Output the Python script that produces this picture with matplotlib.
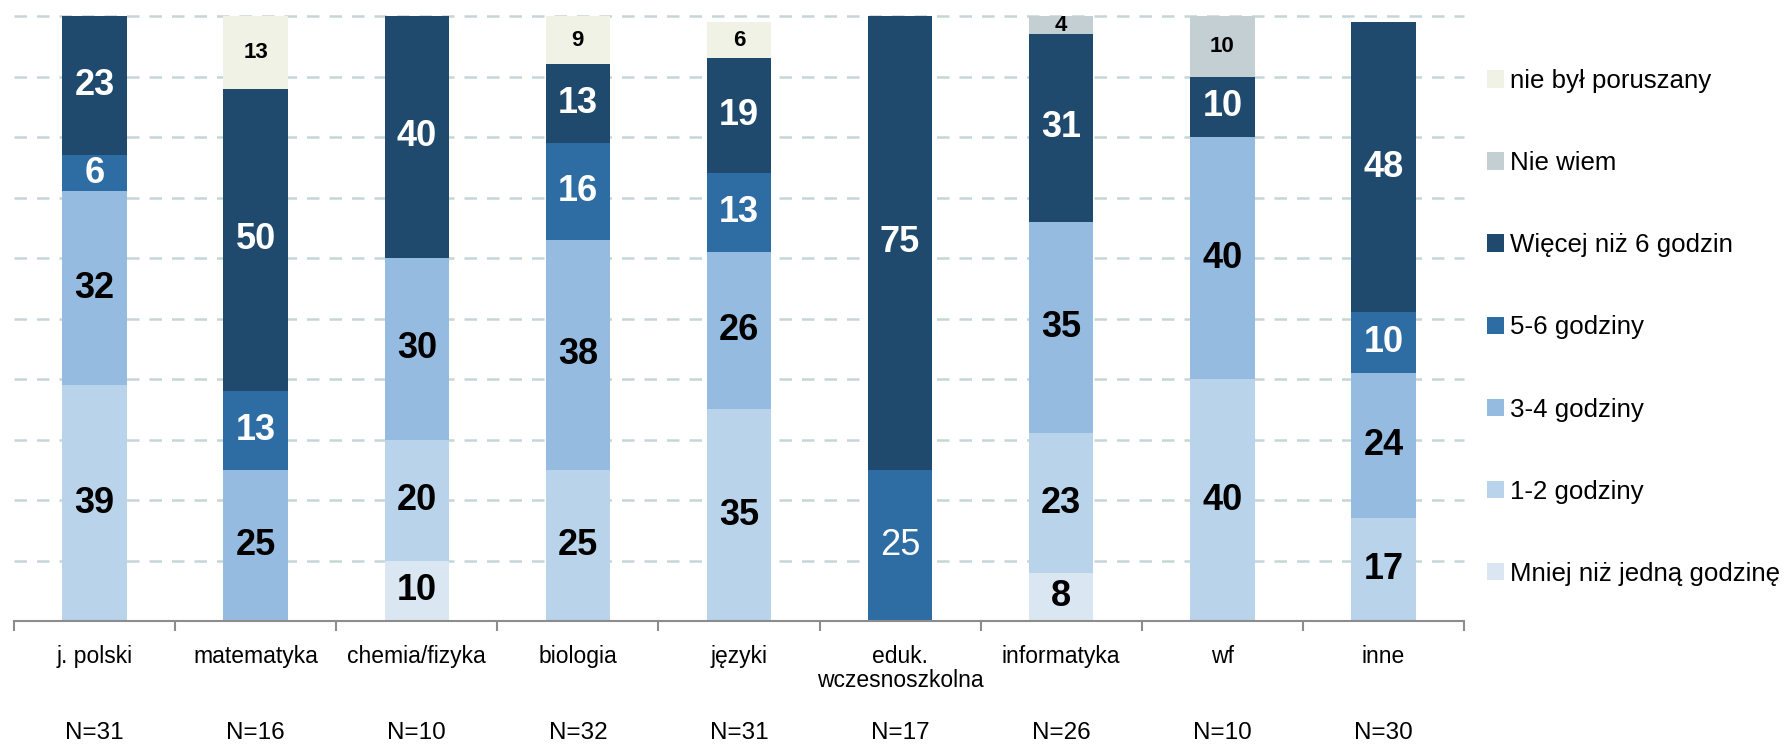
import numpy as np
import matplotlib
matplotlib.use("Agg")
import matplotlib.pyplot as plt
from matplotlib.patches import Patch
from matplotlib.transforms import blended_transform_factory

# data (percent), bottom to top
categories = ["j. polski", "matematyka", "chemia/fizyka", "biologia", "języki",
              "eduk.\nwczesnoszkolna", "informatyka", "wf", "inne"]
n_labels = ["N=31", "N=16", "N=10", "N=32", "N=31", "N=17", "N=26", "N=10", "N=30"]

mniej = [0, 0, 10, 0, 0, 0, 8, 0, 0]
h12 = [39, 0, 20, 25, 35, 0, 23, 40, 17]
h34 = [32, 25, 30, 38, 26, 0, 35, 40, 24]
h56 = [6, 13, 0, 16, 13, 25, 0, 0, 10]
h6plus = [23, 50, 40, 13, 19, 75, 31, 10, 48]
nie_wiem = [0, 0, 0, 0, 0, 0, 4, 10, 0]
nie_byl = [0, 13, 0, 9, 6, 0, 0, 0, 0]

series = [
    ("Mniej niż jedną godzinę", mniej, "#dae6f2", "black", 26),
    ("1-2 godziny", h12, "#b9d3ea", "black", 26),
    ("3-4 godziny", h34, "#96bbe0", "black", 26),
    ("5-6 godziny", h56, "#2e6ca4", "white", 26),
    ("Więcej niż 6 godzin", h6plus, "#1f4a6e", "white", 26),
    ("Nie wiem", nie_wiem, "#c3cfd3", "black", 16),
    ("nie był poruszany", nie_byl, "#f0f2e6", "black", 16),
]

font = ["Liberation Sans", "DejaVu Sans"]

W, H = 1787, 747
fig = plt.figure(figsize=(W / 100, H / 100), dpi=100)
ax = fig.add_axes([14 / W, (H - 621) / H, (1464 - 14) / W, (621 - 16) / H])

x = np.arange(len(categories))
ax.set_xlim(-0.5, len(categories) - 0.5)
ax.set_ylim(0, 100)

# dashed grid
for g in range(10, 101, 10):
    ax.axhline(g, color="#c5d5d8", lw=1.8, ls=(0, (5, 4)), zorder=0, clip_on=False)

bottom = np.zeros(len(categories))
for name, vals, color, tcol, fs in series:
    vals = np.array(vals, dtype=float)
    ax.bar(x, vals, bottom=bottom, width=0.4, color=color, zorder=2)
    for i, v in enumerate(vals):
        if v <= 0:
            continue
        top = min(bottom[i] + v, 100)
        yc = (bottom[i] + top) / 2
        weight = "bold"
        if name == "5-6 godziny" and i == 5:
            weight = "normal"
        ax.text(x[i], yc, f"{int(v)}", ha="center", va="center", color=tcol,
                fontsize=fs, fontweight=weight, family=font, zorder=3)
    bottom += vals

for s in ["top", "right", "left"]:
    ax.spines[s].set_visible(False)
ax.spines["bottom"].set_color("#8c8c8c")
ax.spines["bottom"].set_linewidth(1.5)
ax.set_yticks([])

ax.set_xticks(x)
ax.set_xticklabels(categories, family=font, fontsize=16.5, linespacing=1.1)
ax.tick_params(axis="x", which="major", length=0, pad=17)
ax.set_xticks(np.arange(-0.5, len(categories)), minor=True)
ax.tick_params(axis="x", which="minor", length=7, width=1.5, color="#8c8c8c")

trans = blended_transform_factory(ax.transData, fig.transFigure)
for i, lab in enumerate(n_labels):
    ax.text(x[i], (H - 733) / H, lab, transform=trans, ha="center", va="center",
            family=font, fontsize=17.5)

handles = [Patch(facecolor=c, edgecolor="none", label=n) for n, _, c, _, _ in series][::-1]
fig.legend(handles=handles, loc="upper left", bbox_to_anchor=(1487 / W, 1 - 69 / H),
           frameon=False, prop={"family": font, "size": 18.6},
           handlelength=0.66, handleheight=0.66, handletextpad=0.22,
           labelspacing=2.25, borderaxespad=0, borderpad=0)

fig.savefig("out.png", dpi=100)
